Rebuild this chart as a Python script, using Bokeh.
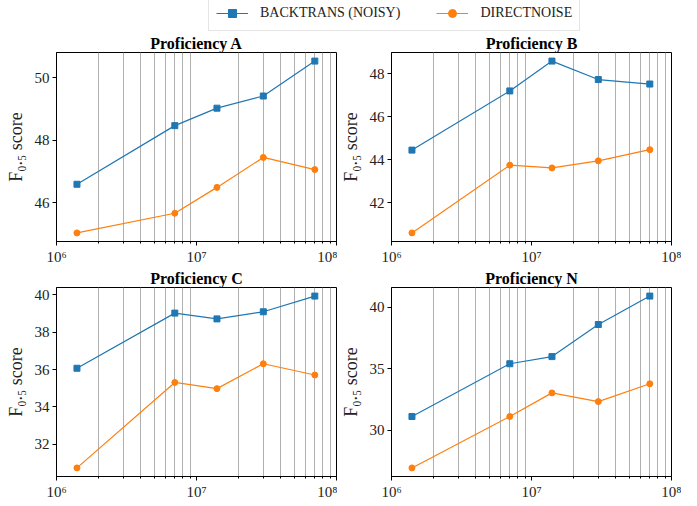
from bokeh.plotting import figure
from bokeh.layouts import column, row
from bokeh.models import (Range1d, DataRange1d, FixedTicker, Legend, LegendItem,
                          ColumnDataSource)
from bokeh.embed import file_html
from bokeh.resources import INLINE

# ---------------- data ----------------
corpus_size = [1.4e6, 7e6, 1.4e7, 3e7, 7e7]

titles = ["Proficiency A", "Proficiency B", "Proficiency C", "Proficiency N"]

backtrans_A = [46.59, 48.47, 49.03, 49.42, 50.54]
direct_A = [45.03, 45.66, 46.49, 47.45, 47.06]

backtrans_B = [44.45, 47.21, 48.60, 47.74, 47.53]
direct_B = [40.59, 43.75, 43.62, 43.95, 44.47]

backtrans_C = [36.07, 39.02, 38.71, 39.09, 39.93]
direct_C = [30.74, 35.31, 34.98, 36.31, 35.71]

backtrans_N = [31.13, 35.42, 36.00, 38.61, 40.92]
direct_N = [26.95, 31.13, 33.05, 32.34, 33.79]

yticks_A = [46, 48, 50]
yticks_B = [42, 44, 46, 48]
yticks_C = [32, 34, 36, 38, 40]
yticks_N = [30, 35, 40]

x_major = [1e6, 1e7, 1e8]
x_minor = [m * 10 ** e for e in (6, 7) for m in range(2, 10)]
x_labels = {1e6: "10⁶", 1e7: "10⁷", 1e8: "10⁸"}

series_labels = ["BACKTRANS (NOISY)", "DIRECTNOISE"]

BLUE = "#1f77b4"
ORANGE = "#ff7f0e"
FONT = "Liberation Serif"
TXT = "#222222"


def make_panel(title, bt, dn, yticks, left, right):
    p = figure(frame_width=280, frame_height=189, x_axis_type="log",
               x_range=Range1d(1e6, 1e8), y_range=DataRange1d(range_padding=0.1),
               toolbar_location=None, output_backend="svg",
               min_border_left=left, min_border_right=right,
               min_border_top=0, min_border_bottom=0)
    p.title.text = title
    p.title.align = "center"
    p.title.text_font = FONT
    p.title.text_font_style = "bold"
    p.title.text_font_size = "16px"
    p.title.text_color = "black"
    p.title.standoff = 1
    p.title.offset = 0

    src = ColumnDataSource(dict(x=corpus_size, bt=bt, dn=dn))
    p.line("x", "bt", source=src, color=BLUE, line_width=1.2)
    p.scatter("x", "bt", source=src, marker="square", size=6, color=BLUE)
    p.line("x", "dn", source=src, color=ORANGE, line_width=1.2)
    p.scatter("x", "dn", source=src, marker="circle", size=6, color=ORANGE)

    p.xaxis.ticker = FixedTicker(ticks=x_major, minor_ticks=x_minor)
    p.xaxis.major_label_overrides = x_labels
    p.yaxis.ticker = FixedTicker(ticks=yticks)
    p.yaxis.axis_label = "F₀.₅ score"
    p.yaxis.axis_label_text_font = FONT
    p.yaxis.axis_label_text_font_style = "normal"
    p.yaxis.axis_label_text_font_size = "18px"
    p.yaxis.axis_label_text_color = TXT
    p.yaxis.axis_label_standoff = 6

    for ax in (p.xaxis, p.yaxis):
        ax.major_label_text_font = FONT
        ax.major_label_text_font_size = "15px"
        ax.major_label_text_color = TXT
        ax.axis_line_color = "black"
        ax.major_tick_line_color = "black"
        ax.major_tick_in = 0
        ax.major_tick_out = 4
        ax.major_label_standoff = 3
    p.xaxis.minor_tick_line_color = "black"
    p.xaxis.minor_tick_in = 0
    p.xaxis.minor_tick_out = 2
    p.yaxis.minor_tick_line_color = None

    p.xgrid.grid_line_color = None
    p.xgrid.minor_grid_line_color = "#b0b0b0"
    p.xgrid.minor_grid_line_width = 1
    p.ygrid.grid_line_color = None

    p.outline_line_color = "black"
    p.outline_line_width = 1
    p.background_fill_color = "white"
    p.border_fill_color = "white"
    return p, src


pA, srcA = make_panel(titles[0], backtrans_A, direct_A, yticks_A, 56, 1)
pB, _ = make_panel(titles[1], backtrans_B, direct_B, yticks_B, 48, 10)
pC, _ = make_panel(titles[2], backtrans_C, direct_C, yticks_C, 56, 1)
pN, _ = make_panel(titles[3], backtrans_N, direct_N, yticks_N, 48, 10)

# legend figure (its renderers use panel A's data, which lies outside its view)
lg = figure(width=681, height=32, x_range=Range1d(0, 1), y_range=Range1d(0, 1),
            x_axis_location=None, y_axis_location=None, toolbar_location=None,
            output_backend="svg", min_border=0)
lg.outline_line_color = None
lg.xgrid.visible = False
lg.ygrid.visible = False
l1 = lg.line("x", "bt", source=srcA, color=BLUE, line_width=1.2)
s1 = lg.scatter("x", "bt", source=srcA, marker="square", size=6, color=BLUE)
l2 = lg.line("x", "dn", source=srcA, color=ORANGE, line_width=1.2)
s2 = lg.scatter("x", "dn", source=srcA, marker="circle", size=6, color=ORANGE)
legend = Legend(items=[LegendItem(label=series_labels[0], renderers=[l1, s1]),
                       LegendItem(label=series_labels[1], renderers=[l2, s2])],
                orientation="horizontal", location=(208, 1))
legend.label_text_font = FONT
legend.label_text_font_size = "14px"
legend.label_text_color = TXT
legend.glyph_width = 32
legend.label_standoff = 12
legend.spacing = 36
legend.padding = 7
legend.margin = 0
legend.border_line_color = "#cccccc"
legend.border_line_width = 1
lg.add_layout(legend, "center")

layout = column(lg, row(pA, pB), row(pC, pN), spacing=0)

open("out.html", "w").write(file_html(layout, INLINE))
